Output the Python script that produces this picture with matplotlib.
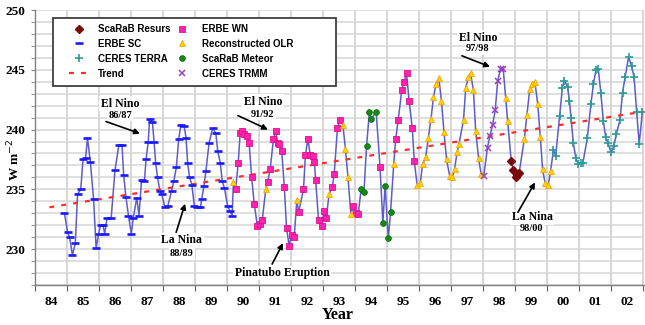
import matplotlib
matplotlib.use('Agg')
import matplotlib.pyplot as plt
import numpy as np
from matplotlib.lines import Line2D
from matplotlib.patches import Rectangle
from matplotlib.ticker import FixedLocator, MultipleLocator, NullFormatter

# ---------------- data ----------------
erbe_sc_t = [1984.92, 1985.02, 1985.08, 1985.17, 1985.26, 1985.33, 1985.43, 1985.50, 1985.58, 1985.64,
             1985.73, 1985.83, 1985.91, 1985.99, 1986.05, 1986.12, 1986.18, 1986.25, 1986.38, 1986.50,
             1986.62, 1986.72, 1986.77, 1986.84, 1986.92, 1987.01, 1987.07, 1987.18, 1987.25, 1987.33,
             1987.42, 1987.47, 1987.54, 1987.58, 1987.67, 1987.72, 1987.77, 1987.83, 1987.90, 1987.96,
             1988.06, 1988.15, 1988.27, 1988.34, 1988.42, 1988.49, 1988.56, 1988.66, 1988.72, 1988.77,
             1988.83, 1988.90, 1988.98, 1989.05, 1989.17, 1989.21, 1989.28, 1989.34, 1989.44, 1989.55,
             1989.65, 1989.71, 1989.79, 1989.85, 1989.92, 1990.02, 1990.09, 1990.16]
erbe_sc_v = [233.0, 231.4, 231.0, 229.5, 230.5, 234.6, 235.0, 237.5, 237.6, 239.3,
             237.3, 234.2, 230.1, 231.3, 232.0, 232.0, 231.3, 232.6, 232.6, 236.6,
             238.7, 238.7, 236.2, 234.4, 232.8, 231.3, 232.6, 234.3, 232.8, 235.8,
             235.7, 237.5, 239.0, 240.9, 240.6, 239.0, 237.2, 236.0, 234.9, 234.6,
             233.5, 233.6, 234.9, 235.7, 236.9, 239.2, 240.4, 240.3, 239.3, 237.2,
             236.0, 235.4, 233.6, 233.5, 233.5, 234.2, 235.3, 236.5, 238.9, 240.1,
             239.7, 238.2, 237.2, 235.7, 235.1, 233.6, 233.2, 232.8]

erbe_wn_t = [1990.27, 1990.35, 1990.41, 1990.48, 1990.54, 1990.62, 1990.69, 1990.77, 1990.85, 1990.95,
             1991.02, 1991.10, 1991.27, 1991.35, 1991.45, 1991.52, 1991.58, 1991.64, 1991.71, 1991.79,
             1991.86, 1991.94, 1992.02, 1992.10, 1992.24, 1992.39, 1992.45, 1992.53, 1992.60, 1992.68,
             1992.73, 1992.77, 1992.86, 1992.96, 1993.03, 1993.10, 1993.29, 1993.35, 1993.45, 1993.53,
             1993.95, 1994.02, 1994.10, 1994.78, 1995.27, 1995.35, 1995.46, 1995.53, 1995.61, 1995.69,
             1995.79, 1995.85]
erbe_wn_v = [235.0, 237.2, 239.7, 239.9, 239.6, 239.5, 238.9, 236.0, 233.8, 231.9,
             232.1, 232.4, 235.6, 236.7, 239.2, 239.9, 238.9, 238.8, 238.2, 235.2,
             231.8, 230.3, 231.2, 231.0, 233.1, 235.0, 237.9, 239.2, 237.9, 237.8,
             237.3, 235.8, 232.4, 231.9, 233.2, 232.6, 235.2, 236.3, 240.1, 240.8,
             233.6, 233.0, 232.9, 236.9, 239.2, 240.8, 243.3, 244.0, 244.7, 242.4,
             240.1, 237.4]

recon_t = [1990.20, 1991.21, 1992.18, 1993.19, 1993.62, 1993.70, 1993.78, 1993.87, 1995.21, 1995.94,
           1996.04, 1996.11, 1996.21, 1996.29, 1996.375, 1996.45, 1996.53, 1996.62, 1996.70, 1996.78,
           1996.86, 1996.96, 1997.04, 1997.11, 1997.19, 1997.25, 1997.39, 1997.46, 1997.54, 1997.61,
           1997.70, 1997.77, 1997.86, 1997.94, 1998.71, 1998.77, 1999.29, 1999.37, 1999.46, 1999.53,
           1999.62, 1999.71, 1999.79, 1999.86, 1999.94, 2000.04, 2000.11]
recon_v = [235.6, 235.0, 234.1, 234.6, 240.4, 238.4, 236.0, 232.9, 237.1, 235.4,
           235.5, 237.1, 237.7, 239.3, 240.9, 242.7, 243.8, 244.3, 242.4, 239.8,
           237.5, 236.1, 236.0, 236.7, 238.1, 238.8, 240.8, 243.5, 244.4, 244.7,
           243.3, 239.9, 237.6, 236.3, 242.6, 240.7, 239.2, 241.2, 243.4, 243.8,
           244.0, 242.1, 239.4, 236.7, 235.5, 235.4, 236.5]

meteor_t = [1994.19, 1994.28, 1994.36, 1994.45, 1994.51, 1994.66, 1994.87, 1994.94, 1995.04, 1995.11]
meteor_v = [235.0, 234.8, 238.6, 241.5, 240.9, 241.5, 232.2, 235.3, 230.9, 233.1]

trmm_t = [1998.02, 1998.14, 1998.22, 1998.30, 1998.38, 1998.46, 1998.55, 1998.63]
trmm_v = [236.1, 238.5, 239.5, 240.4, 241.6, 244.1, 245.1, 245.1]

resurs_t = [1998.88, 1998.95, 1999.02, 1999.07, 1999.13]
resurs_v = [237.4, 236.6, 236.0, 236.2, 236.4]

terra_t = [2000.20, 2000.27, 2000.39, 2000.48, 2000.54, 2000.64, 2000.70, 2000.75, 2000.82, 2000.90,
           2000.98, 2001.05, 2001.12, 2001.26, 2001.37, 2001.45, 2001.53, 2001.60, 2001.68, 2001.76,
           2001.83, 2001.90, 2002.00, 2002.09, 2002.16, 2002.28, 2002.36, 2002.44, 2002.55, 2002.64,
           2002.72, 2002.80, 2002.88, 2002.98]
terra_v = [238.3, 237.8, 241.1, 243.5, 244.1, 243.6, 242.4, 241.0, 238.9, 237.6,
           237.1, 237.2, 237.2, 239.3, 242.1, 243.8, 245.0, 245.1, 243.1, 240.7,
           239.4, 238.9, 238.1, 238.6, 239.6, 240.8, 243.1, 244.4, 246.1, 245.3,
           244.4, 241.5, 238.8, 241.5]

trend_t = [1984.45, 2003.0]
trend_v = [233.5, 241.5]

year_ticks = list(range(1984, 2004))
year_labels = ['84', '85', '86', '87', '88', '89', '90', '91', '92', '93',
               '94', '95', '96', '97', '98', '99', '00', '01', '02']

# ---------------- figure ----------------
SERIF = ['Liberation Serif', 'DejaVu Serif']
SANS = ['Liberation Sans', 'DejaVu Sans']

fig = plt.figure(figsize=(6.45, 3.25), dpi=100)
ax = fig.add_axes([35 / 645, 1 - 285 / 325, 609 / 645, 275 / 325])
ax.set_xlim(1984, 2003.03)
ax.set_ylim(227, 250)

# ticks & gridlines
ax.xaxis.set_major_locator(FixedLocator(year_ticks))
ax.xaxis.set_minor_locator(FixedLocator([y + 0.5 for y in year_ticks[:-1]]))
ax.xaxis.set_major_formatter(NullFormatter())
ax.set_xticklabels(year_labels, minor=True)
ax.yaxis.set_major_locator(MultipleLocator(5))
ax.yaxis.set_minor_locator(MultipleLocator(1))
ax.grid(True, which='major', axis='x', color='#d6d6d6', lw=1.4, zorder=0)
ax.grid(True, which='both', axis='y', color='#d6d6d6', lw=1.1, zorder=0)
ax.set_axisbelow(True)

for s in ['top', 'right']:
    ax.spines[s].set_visible(False)
for s in ['left', 'bottom']:
    ax.spines[s].set_color('#808080')
    ax.spines[s].set_linewidth(1.0)

ax.tick_params(axis='x', which='major', length=4, color='#606060', direction='out')
ax.tick_params(axis='x', which='minor', length=0, pad=8)
ax.tick_params(axis='y', which='both', length=3, color='#808080', direction='out', pad=4)
for lab in ax.get_xticklabels(minor=True) + ax.get_yticklabels():
    lab.set_fontfamily(SERIF)
    lab.set_fontweight('bold')
    lab.set_fontsize(9.5)

# connecting line through all series in time order
all_t = np.concatenate([erbe_sc_t, erbe_wn_t, recon_t, meteor_t, trmm_t, resurs_t, terra_t])
all_v = np.concatenate([erbe_sc_v, erbe_wn_v, recon_v, meteor_v, trmm_v, resurs_v, terra_v])
order = np.argsort(all_t)
ax.plot(all_t[order], all_v[order], color='#5c5ccc', lw=1.1, zorder=2)

# trend
ax.plot(trend_t, trend_v, color='#ff2a2a', lw=1.6, ls=(0, (2.2, 3.2)), zorder=3)

# markers
ax.plot(erbe_sc_t, erbe_sc_v, ls='none', marker='_', ms=5.5, mew=1.9, color='#1a1aff', zorder=4)
ax.plot(erbe_wn_t, erbe_wn_v, ls='none', marker='s', ms=4.2, mfc='#ff22b0', mec='#e0108a', mew=0.6, zorder=4)
ax.plot(recon_t, recon_v, ls='none', marker='^', ms=5, mfc='#ffd400', mec='#f5a800', mew=0.6, zorder=4)
ax.plot(meteor_t, meteor_v, ls='none', marker='o', ms=4.2, mfc='#138a13', mec='#0b6e0b', mew=0.5, zorder=4)
ax.plot(trmm_t, trmm_v, ls='none', marker='x', ms=5, mew=1.1, color='#9b3fc0', zorder=4)
ax.plot(resurs_t, resurs_v, ls='none', marker='D', ms=3.6, color='#7a0a0a', zorder=4)
ax.plot(terra_t, terra_v, ls='none', marker='+', ms=6, mew=1.2, color='#2e9a9a', zorder=4)

# axis labels
ax.set_xlabel('Year', fontfamily=SERIF, fontweight='bold', fontsize=11.5)
ax.xaxis.set_label_coords((338 - 35) / 609, (285 - 307) / 275)
ax.set_ylabel('W m$^{-2}$', fontfamily=SERIF, fontweight='bold', fontsize=9.5)
ax.yaxis.set_label_coords((22 - 35) / 609, (285 - 160) / 275)

# legend (box drawn separately so it spans the same area as in the reference)
ax.add_patch(Rectangle(((53 - 35) / 609, (285 - 86) / 275), 283 / 609, 68 / 275,
                       transform=ax.transAxes, fc='white', ec='#404040', lw=1.3, zorder=9))
h = [
    Line2D([], [], ls='none', marker='D', ms=3.6, color='#7a0a0a'),
    Line2D([], [], ls='none', marker='_', ms=5.5, mew=1.9, color='#1a1aff'),
    Line2D([], [], ls='none', marker='+', ms=6, mew=1.2, color='#2e9a9a'),
    Line2D([], [], color='#ff2a2a', lw=1.6, ls=(0, (2.2, 3.2))),
    Line2D([], [], ls='none', marker='s', ms=4.2, mfc='#ff22b0', mec='#e0108a', mew=0.6),
    Line2D([], [], ls='none', marker='^', ms=5, mfc='#ffd400', mec='#f5a800', mew=0.6),
    Line2D([], [], ls='none', marker='o', ms=4.2, mfc='#138a13', mec='#0b6e0b', mew=0.5),
    Line2D([], [], ls='none', marker='x', ms=5, mew=1.1, color='#9b3fc0'),
]
labels = ['ScaRaB Resurs', 'ERBE SC', 'CERES TERRA', 'Trend',
          'ERBE WN', 'Reconstructed OLR', 'ScaRaB Meteor', 'CERES TRMM']
leg = ax.legend(h, labels, ncol=2, loc='upper left',
                bbox_to_anchor=((69 - 35) / 609, (285 - 24) / 275),
                borderaxespad=0, frameon=False,
                prop={'family': SANS, 'weight': 'bold', 'size': 7},
                handlelength=2.0, handletextpad=1.0, labelspacing=0.5, borderpad=0,
                columnspacing=0.2)
leg.set_zorder(10)

# annotations
box = dict(fc='white', ec='none', pad=1.0)
arrow = dict(arrowstyle='-|>', color='black', lw=1.2, mutation_scale=8, shrinkA=0, shrinkB=0)

def note(line1, line2, tx, ty1, ty2, ax0, ay0, ax1, ay1):
    ax.text(tx, ty1, line1, ha='center', va='center', fontfamily=SERIF, fontweight='bold',
            fontsize=8.5, bbox=box, zorder=6)
    if line2:
        ax.text(tx, ty2, line2, ha='center', va='center', fontfamily=SERIF, fontweight='bold',
                fontsize=7.5, bbox=box, zorder=6)
    ax.annotate('', xy=(ax1, ay1), xytext=(ax0, ay0), arrowprops=arrow, zorder=7)

note('El Nino', '86/87', 1986.66, 242.17, 241.17, 1986.22, 240.67, 1987.28, 239.67)
note('El Nino', '91/92', 1991.12, 242.33, 241.25, 1990.34, 241.17, 1991.28, 240.0)
note('El Nino', '97/98', 1997.84, 247.67, 246.75, 1997.34, 246.17, 1998.22, 245.25)
note('La Nina', '88/89', 1988.59, 230.75, 229.6, 1988.41, 231.4, 1988.69, 233.8)
note('La Nina', '98/00', 1999.53, 232.67, 231.7, 1999.09, 233.08, 1999.625, 235.58)
note('Pinatubo Eruption', None, 1991.72, 228.0, None, 1991.41, 228.75, 1991.75, 230.5)

fig.savefig('out.png', dpi=100)
